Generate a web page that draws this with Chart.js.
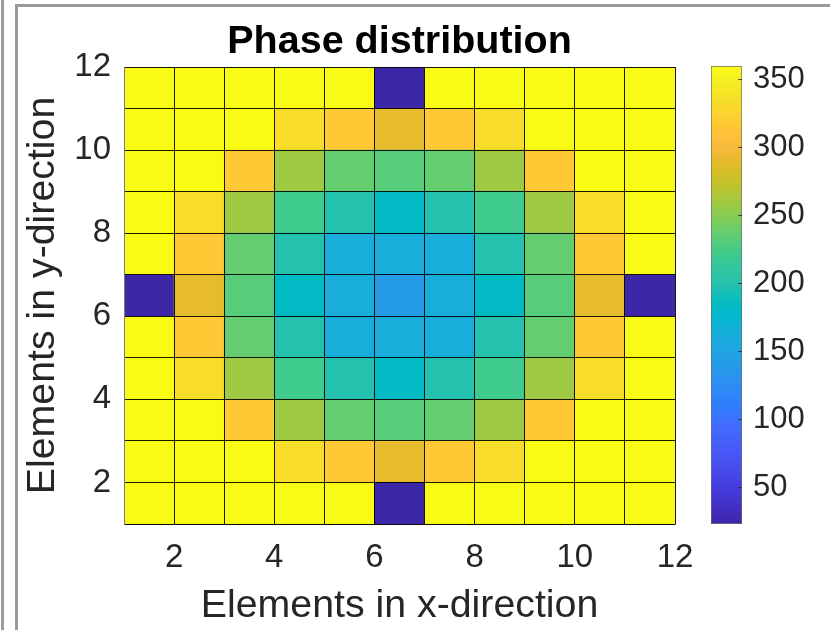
<!DOCTYPE html>
<html>
<head>
<meta charset="utf-8">
<script src="https://cdn.jsdelivr.net/npm/chart.js@4"></script>
<style>
  html, body { margin: 0; padding: 0; background: #fff; }
  body { width: 830px; height: 630px; position: relative; overflow: hidden; }
  .frame { position: absolute; background: #9a9a9a; }
  #main { position: absolute; left: 0; top: 0; }
  #cbar { position: absolute; left: 690px; top: 0; }
</style>
</head>
<body>
<div class="frame" style="left:1px;top:0;width:3px;height:630px;"></div>
<div class="frame" style="left:15px;top:4px;width:3px;height:626px;"></div>
<div class="frame" style="left:15px;top:4px;width:815px;height:3px;"></div>
<canvas id="main" width="708" height="630"></canvas>
<canvas id="cbar" width="140" height="630"></canvas>
<script>
// ---- data ----
const xEdges = [1, 2, 3, 4, 5, 6, 7, 8, 9, 10, 11, 12];
const yEdges = [1, 2, 3, 4, 5, 6, 7, 8, 9, 10, 11, 12];
const xTickLabels = [2, 4, 6, 8, 10, 12];
const yTickLabels = [2, 4, 6, 8, 10, 12];
const colorbarTicks = [50, 100, 150, 200, 250, 300, 350];

// phase (degrees) per cell, columns x = 1..11, one array per row
const rowY1  = [359.8, 359.8, 359.8, 359.8, 359.8, 23.3, 359.8, 359.8, 359.8, 359.8, 359.8];
const rowY2  = [359.8, 359.8, 359.8, 333, 316, 289, 316, 333, 359.8, 359.8, 359.8];
const rowY3  = [359.8, 359.8, 316, 256, 238, 231, 238, 256, 316, 359.8, 359.8];
const rowY4  = [359.8, 333, 256, 223, 197, 184, 197, 223, 256, 333, 359.8];
const rowY5  = [359.8, 316, 238, 197, 163, 163, 163, 197, 238, 316, 359.8];
const rowY6  = [23.3, 289, 231, 184, 163, 139, 163, 184, 231, 289, 23.3];
const rowY7  = [359.8, 316, 238, 197, 163, 163, 163, 197, 238, 316, 359.8];
const rowY8  = [359.8, 333, 256, 223, 197, 184, 197, 223, 256, 333, 359.8];
const rowY9  = [359.8, 359.8, 316, 256, 238, 231, 238, 256, 316, 359.8, 359.8];
const rowY10 = [359.8, 359.8, 359.8, 333, 316, 289, 316, 333, 359.8, 359.8, 359.8];
const rowY11 = [359.8, 359.8, 359.8, 359.8, 359.8, 23.3, 359.8, 359.8, 359.8, 359.8, 359.8];
const rows = [rowY1, rowY2, rowY3, rowY4, rowY5, rowY6, rowY7, rowY8, rowY9, rowY10, rowY11];

// ---- parula colormap (64) ----
const parula = [
[0.2422,0.1504,0.6603],[0.2504,0.1650,0.7076],[0.2578,0.1818,0.7511],[0.2647,0.1978,0.7952],
[0.2706,0.2147,0.8364],[0.2751,0.2342,0.8710],[0.2783,0.2559,0.8991],[0.2803,0.2782,0.9221],
[0.2813,0.3006,0.9414],[0.2810,0.3228,0.9579],[0.2795,0.3447,0.9717],[0.2760,0.3667,0.9829],
[0.2699,0.3892,0.9906],[0.2602,0.4123,0.9952],[0.2440,0.4358,0.9988],[0.2206,0.4603,0.9973],
[0.1963,0.4847,0.9892],[0.1834,0.5074,0.9798],[0.1786,0.5289,0.9682],[0.1764,0.5499,0.9520],
[0.1687,0.5703,0.9359],[0.1540,0.5902,0.9218],[0.1460,0.6091,0.9079],[0.1380,0.6276,0.8973],
[0.1248,0.6459,0.8883],[0.1113,0.6635,0.8763],[0.0952,0.6798,0.8598],[0.0689,0.6948,0.8394],
[0.0297,0.7082,0.8163],[0.0036,0.7203,0.7917],[0.0067,0.7312,0.7660],[0.0433,0.7411,0.7394],
[0.0964,0.7500,0.7120],[0.1408,0.7584,0.6842],[0.1717,0.7670,0.6554],[0.1938,0.7758,0.6251],
[0.2161,0.7843,0.5923],[0.2470,0.7918,0.5567],[0.2906,0.7973,0.5188],[0.3406,0.8008,0.4789],
[0.3909,0.8029,0.4354],[0.4456,0.8024,0.3909],[0.5044,0.7993,0.3480],[0.5616,0.7942,0.3045],
[0.6174,0.7876,0.2612],[0.6720,0.7793,0.2227],[0.7242,0.7698,0.1910],[0.7738,0.7598,0.1646],
[0.8203,0.7498,0.1535],[0.8634,0.7406,0.1596],[0.9035,0.7330,0.1774],[0.9393,0.7288,0.2100],
[0.9728,0.7298,0.2394],[0.9956,0.7434,0.2371],[0.9970,0.7659,0.2199],[0.9952,0.7893,0.2028],
[0.9892,0.8136,0.1885],[0.9786,0.8386,0.1766],[0.9676,0.8639,0.1643],[0.9610,0.8890,0.1537],
[0.9597,0.9135,0.1423],[0.9628,0.9373,0.1265],[0.9691,0.9606,0.1064],[0.9769,0.9839,0.0805]
];
const rgb = c => 'rgb(' + c.map(v => Math.round(v * 255)).join(',') + ')';
const allVals = rows.flat();
const cmin = Math.min(...allVals);
const cmax = Math.max(...allVals);
function colorFor(v) {
  let i = Math.floor((v - cmin) / (cmax - cmin) * parula.length);
  i = Math.max(0, Math.min(parula.length - 1, i));
  return rgb(parula[i]);
}

const FONT = "'Liberation Sans', Arial, Helvetica, sans-serif";
const TXT = '#262626';

// ---- main pcolor chart ----
const datasets = rows.map((vals, r) => ({
  label: 'y=' + yEdges[r],
  data: vals.map((v, c) => ({ x: (xEdges[c] + xEdges[c + 1]) / 2, y: [yEdges[r], yEdges[r + 1]] })),
  backgroundColor: vals.map(colorFor),
  borderWidth: 0,
  grouped: false,
  barPercentage: 1,
  categoryPercentage: 1
}));

new Chart(document.getElementById('main'), {
  type: 'bar',
  data: { datasets },
  options: {
    responsive: false,
    animation: false,
    events: [],
    layout: { padding: { left: 0, right: 33, top: 0, bottom: 0 } },
    plugins: {
      legend: { display: false },
      tooltip: { enabled: false },
      title: {
        display: true,
        fullSize: false,
        text: 'Phase distribution',
        color: '#000',
        font: { family: FONT, size: 39.5, weight: 'bold', lineHeight: 1.2 },
        padding: { top: 18, bottom: 1.6 }
      }
    },
    scales: {
      x: {
        type: 'linear',
        offset: false,
        min: xEdges[0],
        max: xEdges[xEdges.length - 1],
        grid: { offset: false, color: 'rgba(0,0,0,0.9)', lineWidth: 1, drawTicks: false, z: 1 },
        border: { display: true, color: '#7a7a7a', z: 1 },
        ticks: {
          stepSize: 1, autoSkip: false, maxRotation: 0, padding: 14, color: TXT,
          font: { family: FONT, size: 33 },
          callback: v => xTickLabels.includes(v) ? String(v) : ''
        },
        title: { display: true, text: 'Elements in x-direction', color: TXT,
                 font: { family: FONT, size: 39.3 }, padding: { top: 0, bottom: 0 } },
        afterFit: s => { s.height = 106; }
      },
      y: {
        type: 'linear',
        min: yEdges[0],
        max: yEdges[yEdges.length - 1],
        beginAtZero: false,
        grid: { color: 'rgba(0,0,0,0.9)', lineWidth: 1, drawTicks: false, z: 1 },
        border: { display: true, color: '#7a7a7a', z: 1 },
        ticks: {
          stepSize: 1, autoSkip: false, padding: 13, color: TXT,
          font: { family: FONT, size: 33 },
          callback: v => yTickLabels.includes(v) ? String(v) : ''
        },
        title: { display: true, text: 'Elements in y-direction', color: TXT,
                 font: { family: FONT, size: 39.3 }, padding: { top: 20, bottom: 0 } },
        afterFit: s => { s.width = 124; }
      }
    }
  }
});

// ---- colorbar ----
function cbarGradient(ctx) {
  const chart = ctx.chart;
  const area = chart.chartArea;
  if (!area) return rgb(parula[0]);
  const g = chart.ctx.createLinearGradient(0, area.bottom, 0, area.top);
  parula.forEach((c, i) => g.addColorStop(i / (parula.length - 1), rgb(c)));
  return g;
}

new Chart(document.getElementById('cbar'), {
  type: 'bar',
  data: {
    labels: [''],
    datasets: [{
      data: [[cmin, cmax]],
      backgroundColor: cbarGradient,
      borderColor: '#6e6e6e',
      borderWidth: 1,
      borderSkipped: false,
      barPercentage: 1,
      categoryPercentage: 1
    }]
  },
  options: {
    responsive: false,
    animation: false,
    events: [],
    layout: { padding: { left: 21, right: 0, top: 66, bottom: 106 } },
    plugins: { legend: { display: false }, tooltip: { enabled: false } },
    scales: {
      x: { display: false },
      y: {
        position: 'right',
        min: cmin,
        max: cmax,
        beginAtZero: false,
        grid: { drawOnChartArea: false, drawTicks: true, tickLength: -4, color: 'rgba(40,40,40,0.8)', lineWidth: 1, z: 1 },
        border: { display: false },
        ticks: {
          stepSize: 50, includeBounds: false, padding: 15, color: TXT,
          font: { family: FONT, size: 31 },
          callback: v => colorbarTicks.includes(v) ? String(v) : ''
        },
        afterFit: s => { s.width = 88; }
      }
    }
  }
});
</script>
</body>
</html>
